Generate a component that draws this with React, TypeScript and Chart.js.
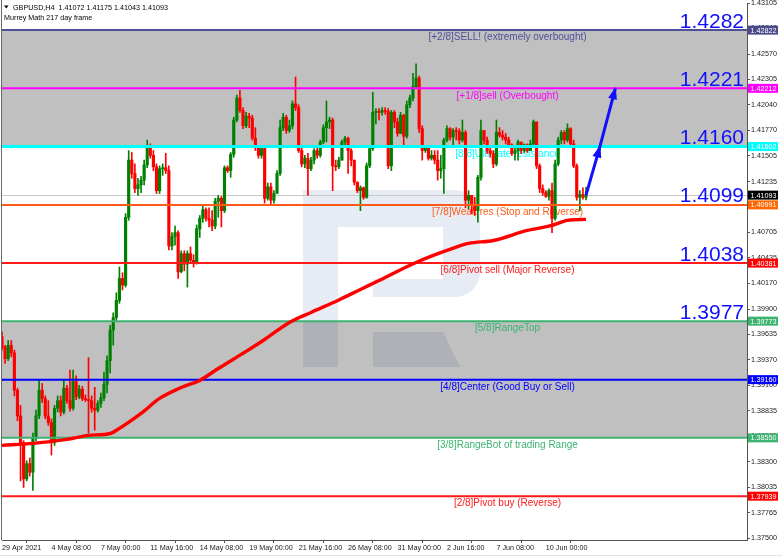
import React, { useEffect, useRef } from "react";
import { Chart, registerables } from "chart.js";

Chart.register(...registerables);

const FONT = "'Liberation Sans', Arial, sans-serif";
const GREEN = "#008000";
const RED = "#ff0000";
const BLUE = "#1010ff";

// ---- candle data (H4 bars, index 0 = 29 Apr 2021 16:00) ----
const firstOpen = 1.3961;
const closes = [
  1.3950, 1.3938, 1.3952, 1.3944, 1.3905, 1.3878, 1.3850, 1.3812, 1.3828, 1.3819,
  1.3855, 1.3878, 1.3905, 1.3896, 1.3878, 1.3871, 1.3850, 1.3886, 1.3894, 1.3882,
  1.3907, 1.3894, 1.3886, 1.3914, 1.3898, 1.3906, 1.3896, 1.3895, 1.3894, 1.3886,
  1.3884, 1.3891, 1.3897, 1.3911, 1.3936, 1.3968, 1.3981, 1.3999, 1.4022, 1.4015,
  1.4086, 1.4146, 1.4132, 1.4116, 1.4120, 1.4125, 1.4141, 1.4160, 1.4151, 1.4139,
  1.4114, 1.4137, 1.4138, 1.4135, 1.4056, 1.4066, 1.4070, 1.4029, 1.4048, 1.4037,
  1.4048, 1.4041, 1.4038, 1.4074, 1.4085, 1.4094, 1.4085, 1.4083, 1.4077, 1.4103,
  1.4106, 1.4093, 1.4138, 1.4135, 1.4152, 1.4188, 1.4211, 1.4198, 1.4182, 1.4192,
  1.4190, 1.4169, 1.4159, 1.4151, 1.4158, 1.4106, 1.4118, 1.4104, 1.4111, 1.4132,
  1.4180, 1.4191, 1.4177, 1.4182, 1.4205, 1.4201, 1.4156, 1.4142, 1.4148, 1.4137,
  1.4146, 1.4156, 1.4151, 1.4165, 1.4180, 1.4186, 1.4188, 1.4140, 1.4139, 1.4146,
  1.4165, 1.4169, 1.4156, 1.4146, 1.4123, 1.4114, 1.4117, 1.4107, 1.4140, 1.4158,
  1.4196, 1.4197, 1.4196, 1.4198, 1.4197, 1.4140, 1.4196, 1.4186, 1.4174, 1.4193,
  1.4171, 1.4204, 1.4211, 1.4223, 1.4232, 1.4179, 1.4156, 1.4159, 1.4148, 1.4151,
  1.4146, 1.4135, 1.4137, 1.4167, 1.4179, 1.4170, 1.4177, 1.4176, 1.4167, 1.4175,
  1.4104, 1.4109, 1.4099, 1.4093, 1.4128, 1.4177, 1.4167, 1.4156, 1.4153, 1.4142,
  1.4175, 1.4172, 1.4170, 1.4167, 1.4162, 1.4153, 1.4156, 1.4165, 1.4156, 1.4162,
  1.4156, 1.4163, 1.4186, 1.4140, 1.4116, 1.4112, 1.4108, 1.4114, 1.4085, 1.4142,
  1.4167, 1.4175, 1.4167, 1.4179, 1.4163, 1.4140, 1.4107, 1.4110, 1.41072, 1.41093,
];
const highs = [
  1.3966, 1.3952, 1.3957, 1.3957, 1.3947, 1.3907, 1.3889, 1.3852, 1.3831, 1.3834,
  1.3860, 1.3884, 1.3915, 1.3912, 1.3899, 1.3894, 1.3875, 1.3889, 1.3899, 1.3899,
  1.3915, 1.3910, 1.3926, 1.3926, 1.3920, 1.3910, 1.3909, 1.3900, 1.3939, 1.3899,
  1.3908, 1.3894, 1.3902, 1.3924, 1.3941, 1.3973, 1.3986, 1.4007, 1.4034, 1.4028,
  1.4090, 1.4156, 1.4154, 1.4142, 1.4127, 1.4129, 1.4146, 1.4167, 1.4163, 1.4156,
  1.4142, 1.4140, 1.4142, 1.4153, 1.4140, 1.4070, 1.4077, 1.4072, 1.4051, 1.4051,
  1.4051, 1.4055, 1.4047, 1.4078, 1.4088, 1.4098, 1.4096, 1.4096, 1.4093, 1.4106,
  1.4109, 1.4108, 1.4140, 1.4140, 1.4154, 1.4191, 1.4214, 1.4219, 1.4201, 1.4196,
  1.4195, 1.4193, 1.4180, 1.4161, 1.4161, 1.4161, 1.4122, 1.4122, 1.4114, 1.4135,
  1.4188, 1.4195, 1.4193, 1.4188, 1.4208, 1.4233, 1.4204, 1.4159, 1.4151, 1.4153,
  1.4149, 1.4158, 1.4159, 1.4167, 1.4183, 1.4208, 1.4191, 1.4190, 1.4146, 1.4149,
  1.4167, 1.4171, 1.4170, 1.4158, 1.4146, 1.4123, 1.4119, 1.4118, 1.4143, 1.4161,
  1.4217, 1.4200, 1.4200, 1.4201, 1.4201, 1.4200, 1.4198, 1.4198, 1.4190, 1.4196,
  1.4194, 1.4208, 1.4214, 1.4237, 1.4247, 1.4234, 1.4182, 1.4161, 1.4161, 1.4156,
  1.4156, 1.4156, 1.4151, 1.4169, 1.4182, 1.4180, 1.4179, 1.4180, 1.4179, 1.4188,
  1.4177, 1.4114, 1.4109, 1.4107, 1.4130, 1.4188, 1.4177, 1.4170, 1.4161, 1.4156,
  1.4188, 1.4180, 1.4177, 1.4174, 1.4170, 1.4163, 1.4159, 1.4167, 1.4163, 1.4163,
  1.4163, 1.4167, 1.4188, 1.4186, 1.4142, 1.4120, 1.4114, 1.4116, 1.4122, 1.4146,
  1.4170, 1.4177, 1.4177, 1.4184, 1.4180, 1.4167, 1.4142, 1.4114, 1.4117, 1.41175,
];
const lows = [
  1.3947, 1.3933, 1.3936, 1.3940, 1.3899, 1.3873, 1.3810, 1.3803, 1.3810, 1.3815,
  1.3800, 1.3852, 1.3875, 1.3892, 1.3875, 1.3868, 1.3837, 1.3847, 1.3882, 1.3878,
  1.3880, 1.3891, 1.3883, 1.3884, 1.3895, 1.3896, 1.3894, 1.3893, 1.3860, 1.3882,
  1.3863, 1.3882, 1.3887, 1.3894, 1.3902, 1.3923, 1.3952, 1.3978, 1.3996, 1.4010,
  1.4013, 1.4083, 1.4127, 1.4112, 1.4109, 1.4112, 1.4120, 1.4138, 1.4148, 1.4135,
  1.4111, 1.4111, 1.4130, 1.4132, 1.4052, 1.4052, 1.4057, 1.4022, 1.4028, 1.4030,
  1.4013, 1.4038, 1.4034, 1.4037, 1.4065, 1.4081, 1.4082, 1.4076, 1.4072, 1.4074,
  1.4086, 1.4076, 1.4091, 1.4133, 1.4128, 1.4149, 1.4186, 1.4196, 1.4179, 1.4180,
  1.4180, 1.4167, 1.4156, 1.4148, 1.4148, 1.4101, 1.4104, 1.4099, 1.4101, 1.4116,
  1.4130, 1.4177, 1.4174, 1.4175, 1.4179, 1.4198, 1.4154, 1.4139, 1.4138, 1.4109,
  1.4135, 1.4142, 1.4148, 1.4149, 1.4163, 1.4165, 1.4179, 1.4114, 1.4135, 1.4137,
  1.4146, 1.4159, 1.4132, 1.4140, 1.4120, 1.4112, 1.4093, 1.4105, 1.4106, 1.4138,
  1.4156, 1.4184, 1.4188, 1.4193, 1.4194, 1.4137, 1.4135, 1.4180, 1.4171, 1.4174,
  1.4161, 1.4169, 1.4201, 1.4208, 1.4221, 1.4175, 1.4146, 1.4154, 1.4146, 1.4146,
  1.4142, 1.4125, 1.4127, 1.4111, 1.4165, 1.4167, 1.4159, 1.4167, 1.4163, 1.4165,
  1.4096, 1.4095, 1.4090, 1.4088, 1.4081, 1.4125, 1.4163, 1.4153, 1.4149, 1.4138,
  1.4140, 1.4170, 1.4167, 1.4163, 1.4159, 1.4151, 1.4146, 1.4146, 1.4153, 1.4154,
  1.4154, 1.4156, 1.4159, 1.4137, 1.4112, 1.4109, 1.4107, 1.4104, 1.4070, 1.4083,
  1.4140, 1.4163, 1.4163, 1.4165, 1.4161, 1.4138, 1.4104, 1.4093, 1.4105, 1.41043,
];

// ---- moving average (sampled at bar indices) ----
const maBars = [0, 10, 21, 28, 35, 38, 45, 51, 58, 64, 70, 79, 85, 93, 100, 109, 116, 122, 134, 144, 151, 159, 170, 178, 183, 189];
const maValues = [
  1.38471, 1.38492, 1.38534, 1.38576, 1.38596, 1.38649, 1.38806, 1.38963, 1.39078, 1.39152,
  1.39277, 1.39456, 1.39581, 1.39759, 1.39864, 1.39995, 1.40105, 1.40199, 1.40388, 1.40514,
  1.40587, 1.40618, 1.40723, 1.40776, 1.40828, 1.40839,
];

// ---- forecast arrow ----
const forecastBars = [189, 193.5, 198.5];
const forecastValues = [1.41093, 1.41602, 1.42212];

// ---- Murrey Math levels ----
const levelValues = [1.42822, 1.42212, 1.41602, 1.40991, 1.40381, 1.39773, 1.3916, 1.3855, 1.37939];
const levelNames = [
  "[+2/8]SELL! (extremely overbought)",
  "[+1/8]sell (Overbought)",
  "[8/8]Ultimate resistance",
  "[7/8]Weak res (Stop and Reverse)",
  "[6/8]Pivot sell (Major Reverse)",
  "[5/8]RangeTop",
  "[4/8]Center (Good Buy or Sell)",
  "[3/8]RangeBot of trading Range",
  "[2/8]Pivot buy (Reverse)",
];
const levelColors = ["#50509a", "#ff00ff", "#00ffff", "#ff5a1a", "#ff1a1a", "#3cb371", "#0000ff", "#3cb371", "#ff1a1a"];
const levelBoxColors = ["#4a4a8a", "#ff00ff", "#00ffff", "#ff6600", "#ff0000", "#3cb371", "#0000ff", "#3cb371", "#ff0000"];
const levelWidths = [2, 2, 3, 2, 2, 2, 2, 2, 2];
const bigLevelLabels = ["1.4282", "1.4221", "1.4160", "1.4099", "1.4038", "1.3977"];

const currentPrice = 1.41093;
const yTickValues = [
  1.43105, 1.4284, 1.4257, 1.42305, 1.4204, 1.4177, 1.41505, 1.41235, 1.4097, 1.40705, 1.40435,
  1.4017, 1.399, 1.39635, 1.3937, 1.391, 1.38835, 1.38565, 1.383, 1.38035, 1.37765, 1.375,
];
const xTickLabels = [
  "29 Apr 2021", "4 May 08:00", "7 May 00:00", "11 May 16:00", "14 May 08:00", "19 May 00:00",
  "21 May 16:00", "26 May 08:00", "31 May 00:00", "2 Jun 16:00", "7 Jun 08:00", "10 Jun 00:00",
];
const X_TICK_STEP = 16;
const headerLine = "GBPUSD,H4  1.41072 1.41175 1.41043 1.41093";
const indicatorLine = "Murrey Math 217 day frame";

const LABEL_CENTER_BAR = 163.6;

const opens = closes.map((_, i) => (i === 0 ? firstOpen : closes[i - 1]));

const murreyPlugin = {
  id: "murrey",
  beforeDatasetsDraw(chart: any) {
    const { ctx, chartArea: a, scales } = chart;
    const y = scales.y;
    const x = scales.x;
    ctx.save();
    ctx.beginPath();
    ctx.rect(a.left, a.top, a.right - a.left, a.bottom - a.top);
    ctx.clip();
    // gray zones
    ctx.fillStyle = "#c0c0c0";
    const band = (v1: number, v2: number) => {
      const y1 = y.getPixelForValue(v1);
      const y2 = y.getPixelForValue(v2);
      ctx.fillRect(a.left, y1, a.right - a.left, y2 - y1);
    };
    band(levelValues[0], levelValues[2]);
    band(levelValues[5], levelValues[7]);
    // watermark logo
    ctx.save();
    ctx.globalCompositeOperation = "multiply";
    ctx.fillStyle = "rgb(231,235,243)";
    ctx.beginPath();
    ctx.rect(303, 190, 35, 177);
    ctx.moveTo(338, 190);
    ctx.lineTo(455, 190);
    ctx.arcTo(480, 190, 480, 215, 25);
    ctx.lineTo(480, 272);
    ctx.arcTo(480, 297, 455, 297, 25);
    ctx.lineTo(373, 297);
    ctx.lineTo(373, 279);
    ctx.lineTo(443, 279);
    ctx.lineTo(443, 227);
    ctx.lineTo(338, 227);
    ctx.closePath();
    ctx.moveTo(373, 332);
    ctx.lineTo(443, 332);
    ctx.lineTo(460, 367);
    ctx.lineTo(373, 367);
    ctx.closePath();
    ctx.fill();
    ctx.restore();
    // current price line
    const py = y.getPixelForValue(currentPrice);
    ctx.strokeStyle = "#c8c8c8";
    ctx.lineWidth = 1;
    ctx.beginPath();
    ctx.moveTo(a.left, Math.round(py) + 0.5);
    ctx.lineTo(a.right, Math.round(py) + 0.5);
    ctx.stroke();
    // level names
    ctx.font = `10px ${FONT}`;
    ctx.textAlign = "center";
    ctx.textBaseline = "middle";
    const cx = x.getPixelForValue(LABEL_CENTER_BAR);
    levelValues.forEach((v, k) => {
      ctx.fillStyle = levelColors[k];
      ctx.fillText(levelNames[k], cx, y.getPixelForValue(v) + 7.5);
    });
    ctx.restore();
  },
  afterDatasetDraw(chart: any, args: any) {
    if (args.index !== 1) return;
    const { ctx, chartArea: a, scales } = chart;
    ctx.save();
    ctx.beginPath();
    ctx.rect(a.left, a.top, a.right - a.left, a.bottom - a.top);
    ctx.clip();
    levelValues.forEach((v, k) => {
      const ly = scales.y.getPixelForValue(v);
      ctx.strokeStyle = levelColors[k];
      ctx.lineWidth = levelWidths[k];
      ctx.beginPath();
      ctx.moveTo(a.left, ly);
      ctx.lineTo(a.right, ly);
      ctx.stroke();
    });
    ctx.restore();
  },
  afterDatasetsDraw(chart: any) {
    const { ctx, chartArea: a, scales } = chart;
    ctx.save();
    // arrow heads on forecast
    const pts = chart.getDatasetMeta(3).data.map((p: any) => ({ x: p.x, y: p.y }));
    ctx.fillStyle = BLUE;
    for (let k = 1; k < pts.length; k++) {
      const from = pts[k - 1];
      const to = pts[k];
      const ang = Math.atan2(to.y - from.y, to.x - from.x);
      const L = 11;
      const W = 4.5;
      const bx = to.x - L * Math.cos(ang);
      const by = to.y - L * Math.sin(ang);
      ctx.beginPath();
      ctx.moveTo(to.x + 1.5 * Math.cos(ang), to.y + 1.5 * Math.sin(ang));
      ctx.lineTo(bx + W * Math.sin(ang), by - W * Math.cos(ang));
      ctx.lineTo(bx - W * Math.sin(ang), by + W * Math.cos(ang));
      ctx.closePath();
      ctx.fill();
    }
    // big level numbers
    ctx.font = `21px ${FONT}`;
    ctx.textAlign = "right";
    ctx.textBaseline = "alphabetic";
    ctx.fillStyle = BLUE;
    bigLevelLabels.forEach((t, k) => {
      ctx.fillText(t, a.right - 3, scales.y.getPixelForValue(levelValues[k]) - 2.5);
    });
    ctx.restore();
  },
  afterDraw(chart: any) {
    const { ctx, chartArea: a, scales } = chart;
    ctx.save();
    // left frame
    ctx.strokeStyle = "#6a6a6a";
    ctx.lineWidth = 1;
    ctx.beginPath();
    ctx.moveTo(1.5, 0);
    ctx.lineTo(1.5, a.bottom);
    ctx.stroke();
    ctx.strokeStyle = "#e4e4e4";
    ctx.beginPath();
    ctx.moveTo(0, 555.5);
    ctx.lineTo(782, 555.5);
    ctx.stroke();
    // right axis price boxes
    ctx.font = `7.2px ${FONT}`;
    ctx.textAlign = "left";
    ctx.textBaseline = "middle";
    const box = (v: number, color: string) => {
      const by = scales.y.getPixelForValue(v);
      ctx.fillStyle = color;
      ctx.fillRect(a.right + 1, by - 4.5, 30, 9);
      ctx.fillStyle = "#ffffff";
      ctx.fillText(v.toFixed(5), a.right + 3.5, by + 0.5);
    };
    levelValues.forEach((v, k) => box(v, levelBoxColors[k]));
    box(currentPrice, "#000000");
    // header
    ctx.fillStyle = "#000000";
    ctx.beginPath();
    ctx.moveTo(4, 5.5);
    ctx.lineTo(8.5, 5.5);
    ctx.lineTo(6.25, 8.5);
    ctx.closePath();
    ctx.fill();
    ctx.textBaseline = "alphabetic";
    ctx.font = `7.2px ${FONT}`;
    ctx.fillText(headerLine, 13, 9.5);
    ctx.fillText(indicatorLine, 4, 20);
    ctx.restore();
  },
};

export default function App() {
  const ref = useRef<HTMLCanvasElement>(null);
  useEffect(() => {
    document.body.style.margin = "0";
    const canvas = ref.current;
    if (!canvas) return;
    const colors = closes.map((c, i) => (c >= opens[i] ? GREEN : RED));
    const tickFont = { family: FONT, size: 7.2 };
    const chart = new Chart(canvas, {
      type: "bar",
      data: {
        datasets: [
          {
            type: "bar",
            data: closes.map((_, i) => ({ x: i, y: [lows[i], highs[i]] })),
            backgroundColor: colors,
            barThickness: 1,
            grouped: false,
            order: 3,
          } as any,
          {
            type: "bar",
            data: closes.map((c, i) => ({ x: i, y: [opens[i], c] })),
            backgroundColor: colors,
            barThickness: 2.5,
            minBarLength: 1,
            grouped: false,
            order: 2,
          } as any,
          {
            type: "line",
            data: maBars.map((b, k) => ({ x: b, y: maValues[k] })),
            borderColor: "#ff0000",
            borderWidth: 3.4,
            pointRadius: 0,
            cubicInterpolationMode: "monotone",
            order: 1,
          } as any,
          {
            type: "line",
            data: forecastBars.map((b, k) => ({ x: b, y: forecastValues[k] })),
            borderColor: BLUE,
            borderWidth: 3,
            pointRadius: 0,
            tension: 0,
            order: 0,
          } as any,
        ],
      },
      options: {
        responsive: false,
        animation: false,
        devicePixelRatio: 1,
        events: [],
        layout: { padding: { left: 2, top: 3, right: 0, bottom: 0 } },
        plugins: { legend: { display: false }, tooltip: { enabled: false } },
        scales: {
          x: {
            type: "linear",
            min: 0,
            max: 241.1,
            offset: false,
            afterBuildTicks: (s: any) => {
              s.ticks = xTickLabels.map((_, k) => ({ value: k * X_TICK_STEP }));
            },
            afterFit: (s: any) => {
              s.height = 18;
              s.paddingLeft = 0;
              s.paddingRight = 0;
            },
            ticks: {
              autoSkip: false,
              maxRotation: 0,
              minRotation: 0,
              align: "start",
              padding: 1,
              font: tickFont,
              color: "#1a1a1a",
              callback: (v: any) => xTickLabels[Math.round(Number(v) / X_TICK_STEP)] ?? "",
            },
            grid: { drawOnChartArea: false, drawTicks: true, tickLength: 3, color: "#555555" },
            border: { display: true, color: "#555555", width: 1 },
          },
          y: {
            type: "linear",
            position: "right",
            min: 1.3748,
            max: 1.43106,
            afterBuildTicks: (s: any) => {
              s.ticks = yTickValues.map((v) => ({ value: v }));
            },
            afterFit: (s: any) => {
              s.width = 35;
              s.paddingTop = 0;
              s.paddingBottom = 0;
            },
            ticks: {
              autoSkip: false,
              padding: 1,
              font: tickFont,
              color: "#1a1a1a",
              callback: (v: any) => Number(v).toFixed(5),
            },
            grid: { drawOnChartArea: false, drawTicks: true, tickLength: 3, color: "#555555" },
            border: { display: true, color: "#555555", width: 1 },
          },
        },
      } as any,
      plugins: [murreyPlugin],
    });
    return () => chart.destroy();
  }, []);
  return (
    <div style={{ width: 782, height: 558, position: "relative", background: "#ffffff" }}>
      <canvas ref={ref} width={782} height={558} style={{ display: "block", width: 782, height: 558 }} />
    </div>
  );
}
